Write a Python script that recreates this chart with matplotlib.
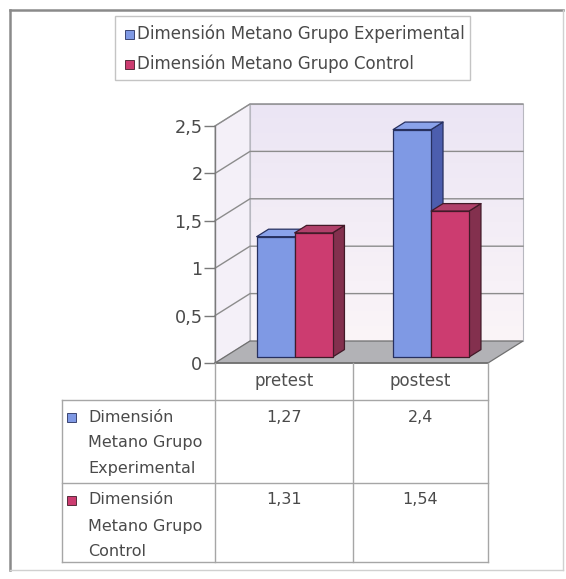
import numpy as np
import matplotlib
matplotlib.use("Agg")
import matplotlib.pyplot as plt
from matplotlib.patches import Polygon, Rectangle
from matplotlib.lines import Line2D
from matplotlib.colors import LinearSegmentedColormap

# ---- data ----
categories = ["pretest", "postest"]
series_names = ["Dimensión Metano Grupo Experimental", "Dimensión Metano Grupo Control"]
experimental = [1.27, 2.4]
control = [1.31, 1.54]
y_ticks = [0, 0.5, 1, 1.5, 2, 2.5]
y_tick_labels = ["0", "0,5", "1", "1,5", "2", "2,5"]
row_labels = [["Dimensión", "Metano Grupo", "Experimental"],
              ["Dimensión", "Metano Grupo", "Control"]]

series_values = [experimental, control]

plt.rcParams['font.family'] = ['DejaVu Sans']

W, H = 566, 579
fig = plt.figure(figsize=(W / 100, H / 100), dpi=100)
fig.patch.set_facecolor("white")


def fx(px):
    return px / W


def fy(py):
    return 1 - py / H


def fline(x0, y0, x1, y1, color="#a8a8a8", lw=1.0):
    fig.add_artist(Line2D([fx(x0), fx(x1)], [fy(y0), fy(y1)], color=color,
                          lw=lw, transform=fig.transFigure))


# front plane of the 3-D box (pixels)
PL, PR, P0, PT = 215, 488, 363, 126
ax = fig.add_axes([fx(PL), fy(P0), (PR - PL) / W, (P0 - PT) / H])
ax.set_facecolor("none")

ymax = 2.5
ncat = len(categories)
# depth of the box in data units
DX = 35 / ((PR - PL) / ncat)
DY = 22 / ((P0 - PT) / ymax)


def proj(x, v, d):
    return (x + d * DX, v + d * DY)


# back wall with a soft gradient
grad = np.linspace(0, 1, 256).reshape(-1, 1)
wall_cmap = LinearSegmentedColormap.from_list("wall", ["#fbf5f8", "#ebe5f4"])
im = ax.imshow(grad, extent=[DX, ncat + DX, DY, ymax + DY], origin="lower",
               cmap=wall_cmap, aspect="auto", zorder=0, clip_on=False)
back = Polygon([proj(0, 0, 1), proj(ncat, 0, 1), proj(ncat, ymax, 1), proj(0, ymax, 1)],
               closed=True, facecolor="none", edgecolor="#b8b8c0", lw=0.8,
               zorder=0.5, clip_on=False)
ax.add_patch(back)
im.set_clip_path(back)

# left side wall
side = Polygon([proj(0, 0, 0), proj(0, 0, 1), proj(0, ymax, 1), proj(0, ymax, 0)],
               closed=True, facecolor="#f4f0f8", edgecolor="#b0b0b8", lw=0.8,
               zorder=0.4, clip_on=False)
ax.add_patch(side)

# gridlines on side and back walls
for t in y_ticks[1:]:
    xs = [proj(0, t, 0)[0], proj(0, t, 1)[0], proj(ncat, t, 1)[0]]
    ys = [proj(0, t, 0)[1], proj(0, t, 1)[1], proj(ncat, t, 1)[1]]
    ax.plot(xs, ys, color="#8c8c8c", lw=1.0, zorder=0.8, clip_on=False)

# floor
floor = Polygon([proj(0, 0, 0), proj(ncat, 0, 0), proj(ncat, 0, 1), proj(0, 0, 1)],
                closed=True, facecolor="#b2b2b6", edgecolor="#707070", lw=0.9,
                zorder=0.9, clip_on=False)
ax.add_patch(floor)

# 3-D bars
styles = [dict(front="#7f99e4", side="#4c5eae", top="#8aa2ea", edge="#27305f"),
          dict(front="#cc3c70", side="#83304e", top="#b0406a", edge="#421a28")]
bar_off, bar_w = 0.236, 0.278
d0, d1 = 0.27, 0.61
for i in range(ncat):
    for j, vals in enumerate(series_values):
        v = vals[i]
        st = styles[j]
        x0 = i + bar_off + j * bar_w
        x1 = x0 + bar_w
        front = [proj(x0, 0, d0), proj(x1, 0, d0), proj(x1, v, d0), proj(x0, v, d0)]
        right = [proj(x1, 0, d0), proj(x1, 0, d1), proj(x1, v, d1), proj(x1, v, d0)]
        top = [proj(x0, v, d0), proj(x1, v, d0), proj(x1, v, d1), proj(x0, v, d1)]
        for pts, fc in ((right, st["side"]), (top, st["top"]), (front, st["front"])):
            ax.add_patch(Polygon(pts, closed=True, facecolor=fc, edgecolor=st["edge"],
                                 lw=0.9, zorder=2 + i, clip_on=False, joinstyle="round"))

# value axis
ax.set_xlim(0, ncat)
ax.set_ylim(0, ymax)
for s in ("top", "right", "bottom"):
    ax.spines[s].set_visible(False)
ax.spines["left"].set_color("#7a7a7a")
ax.spines["left"].set_linewidth(1.0)
ax.set_xticks([])
ax.set_yticks(y_ticks)
ax.set_yticklabels(y_tick_labels)
ax.tick_params(axis="y", length=8, width=1.0, color="#7a7a7a", pad=1,
               labelsize=12.7, labelcolor="#4a4a4a")

# ---- data table ----
TL, TC, TR = 62, 353, PR
ROW_H, ROW1, ROW2, ROW3 = 400, 483, 562, None
line_c = "#a6a6a6"
fline(PL, P0, PR, P0, color="#6e6e6e", lw=1.1)
fline(PL, P0, PL, ROW2, color=line_c)
fline(TC, P0, TC, ROW2, color=line_c)
fline(TR, P0, TR, ROW2, color=line_c)
fline(TL, ROW_H, TL, ROW2, color=line_c)
for yy in (ROW_H, ROW1, ROW2):
    fline(TL, yy, TR, yy, color=line_c)

col_centers = [(PL + TC) / 2, (TC + TR) / 2]
for i, cat in enumerate(categories):
    fig.text(fx(col_centers[i]), fy(381), cat, ha="center", va="center",
             fontsize=12, color="#505050")

table_fs = 11.5
row_line_y = [[417, 443, 468], [500, 526, 551]]
for r, vals in enumerate(series_values):
    st = styles[r]
    ys = row_line_y[r]
    fig.add_artist(Rectangle((fx(67), fy(ys[0] + 4.5)), 9 / W, 9 / H,
                             facecolor=st["front"], edgecolor=st["edge"], lw=0.6,
                             transform=fig.transFigure))
    for k, txt in enumerate(row_labels[r]):
        fig.text(fx(88), fy(ys[k]), txt, ha="left", va="center",
                 fontsize=table_fs, color="#4a4a4a")
    for i, v in enumerate(vals):
        fig.text(fx(col_centers[i]), fy(ys[0]), f"{v:g}".replace(".", ","),
                 ha="center", va="center", fontsize=table_fs, color="#4a4a4a")

# ---- legend ----
fig.add_artist(Rectangle((fx(115), fy(80)), (470 - 115) / W, (80 - 16) / H,
                         facecolor="white", edgecolor="#c4c4c4", lw=1.0,
                         transform=fig.transFigure))
for j, name in enumerate(series_names):
    yc = [34, 64][j]
    st = styles[j]
    fig.add_artist(Rectangle((fx(125), fy(yc + 4.5)), 9 / W, 9 / H,
                             facecolor=st["front"], edgecolor=st["edge"], lw=0.6,
                             transform=fig.transFigure))
    fig.text(fx(137), fy(yc), name, ha="left", va="center", fontsize=12,
             color="#4a4a4a")

# ---- outer frame ----
fline(10, 10, 563, 10, color="#8a8a8a", lw=1.8)
fline(10, 10, 10, 570, color="#8a8a8a", lw=1.8)
fline(563, 10, 563, 570, color="#d0d0d0", lw=1.0)
fline(10, 570, 563, 570, color="#d0d0d0", lw=1.0)

fig.savefig("out.png", dpi=100, facecolor="white")
